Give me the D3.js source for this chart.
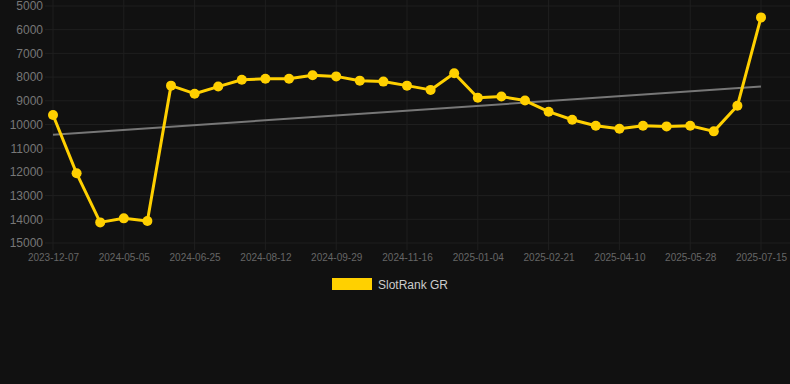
<!DOCTYPE html>
<html><head><meta charset="utf-8">
<script src="https://cdn.jsdelivr.net/npm/d3@7/dist/d3.min.js"></script>
<style>html,body{margin:0;padding:0;background:#111111;}svg{display:block;}</style>
</head><body>
<svg id="c" width="790" height="384"></svg>
<script>
const categories = ["2023-12-07","2024-02-15","2024-04-01","2024-05-05","2024-05-22","2024-06-08","2024-06-25","2024-07-11","2024-07-27","2024-08-12","2024-08-28","2024-09-13","2024-09-29","2024-10-15","2024-10-31","2024-11-16","2024-12-02","2024-12-18","2025-01-04","2025-01-20","2025-02-05","2025-02-21","2025-03-09","2025-03-25","2025-04-10","2025-04-26","2025-05-12","2025-05-28","2025-06-13","2025-06-29","2025-07-15"];
const rankValues = [9600,12060,14130,13960,14070,8360,8700,8400,8110,8070,8070,7920,7970,8150,8190,8360,8540,7840,8870,8820,8990,9460,9800,10050,10180,10050,10080,10050,10290,9210,5480];
const trendValues = [10430, 8400];
const yTicks = [5000,6000,7000,8000,9000,10000,11000,12000,13000,14000,15000];
const xTickLabels = ["2023-12-07","2024-05-05","2024-06-25","2024-08-12","2024-09-29","2024-11-16","2025-01-04","2025-02-21","2025-04-10","2025-05-28","2025-07-15"];
const seriesName = "SlotRank GR";

const svg = d3.select("#c");
const x = d3.scalePoint().domain(categories).range([53, 761]);
const y = d3.scaleLinear().domain([5000, 15000]).range([6, 243]);

// grid
const g = svg.append("g");
g.selectAll(".hg").data(yTicks).enter().append("line")
  .attr("x1", 45).attr("x2", 790)
  .attr("y1", d => y(d)).attr("y2", d => y(d))
  .attr("stroke", "#1f1f1f").attr("stroke-width", 1);
g.selectAll(".vg").data(xTickLabels).enter().append("line")
  .attr("x1", d => x(d)).attr("x2", d => x(d))
  .attr("y1", 0).attr("y2", 250)
  .attr("stroke", "#1f1f1f").attr("stroke-width", 1);

// y axis labels
const yAxis = d3.axisLeft(y).tickValues(yTicks).tickSize(0).tickPadding(0).tickFormat(d => String(d));
const ya = svg.append("g").attr("transform", "translate(43,0)").call(yAxis);
ya.select(".domain").remove();
ya.selectAll("text").attr("fill", "#777").style("font-family", "Arial, 'Liberation Sans', sans-serif").style("font-size", "12px");

// x axis labels
const xAxis = d3.axisBottom(x).tickValues(xTickLabels).tickSize(0).tickPadding(0);
const xa = svg.append("g").attr("transform", "translate(0,254)").call(xAxis);
xa.select(".domain").remove();
xa.selectAll("text").attr("fill", "#666").style("font-family", "Arial, 'Liberation Sans', sans-serif").style("font-size", "10px");

// trend line
svg.append("line")
  .attr("x1", x(categories[0])).attr("x2", x(categories[categories.length - 1]))
  .attr("y1", y(trendValues[0])).attr("y2", y(trendValues[1]))
  .attr("stroke", "#777").attr("stroke-width", 2);

// series line
const line = d3.line().x((d, i) => x(categories[i])).y(d => y(d));
svg.append("path").datum(rankValues)
  .attr("d", line).attr("fill", "none")
  .attr("stroke", "#FFD000").attr("stroke-width", 3).attr("stroke-linejoin", "round");
svg.selectAll(".pt").data(rankValues).enter().append("circle")
  .attr("cx", (d, i) => x(categories[i])).attr("cy", d => y(d))
  .attr("r", 5).attr("fill", "#FFD000");

// legend
svg.append("rect").attr("x", 332).attr("y", 278).attr("width", 40).attr("height", 12).attr("fill", "#FFD000");
svg.append("text").attr("x", 378).attr("y", 288.5).text(seriesName)
  .attr("fill", "#ccc").style("font-family", "Arial, 'Liberation Sans', sans-serif").style("font-size", "12px");
</script>
</body></html>
